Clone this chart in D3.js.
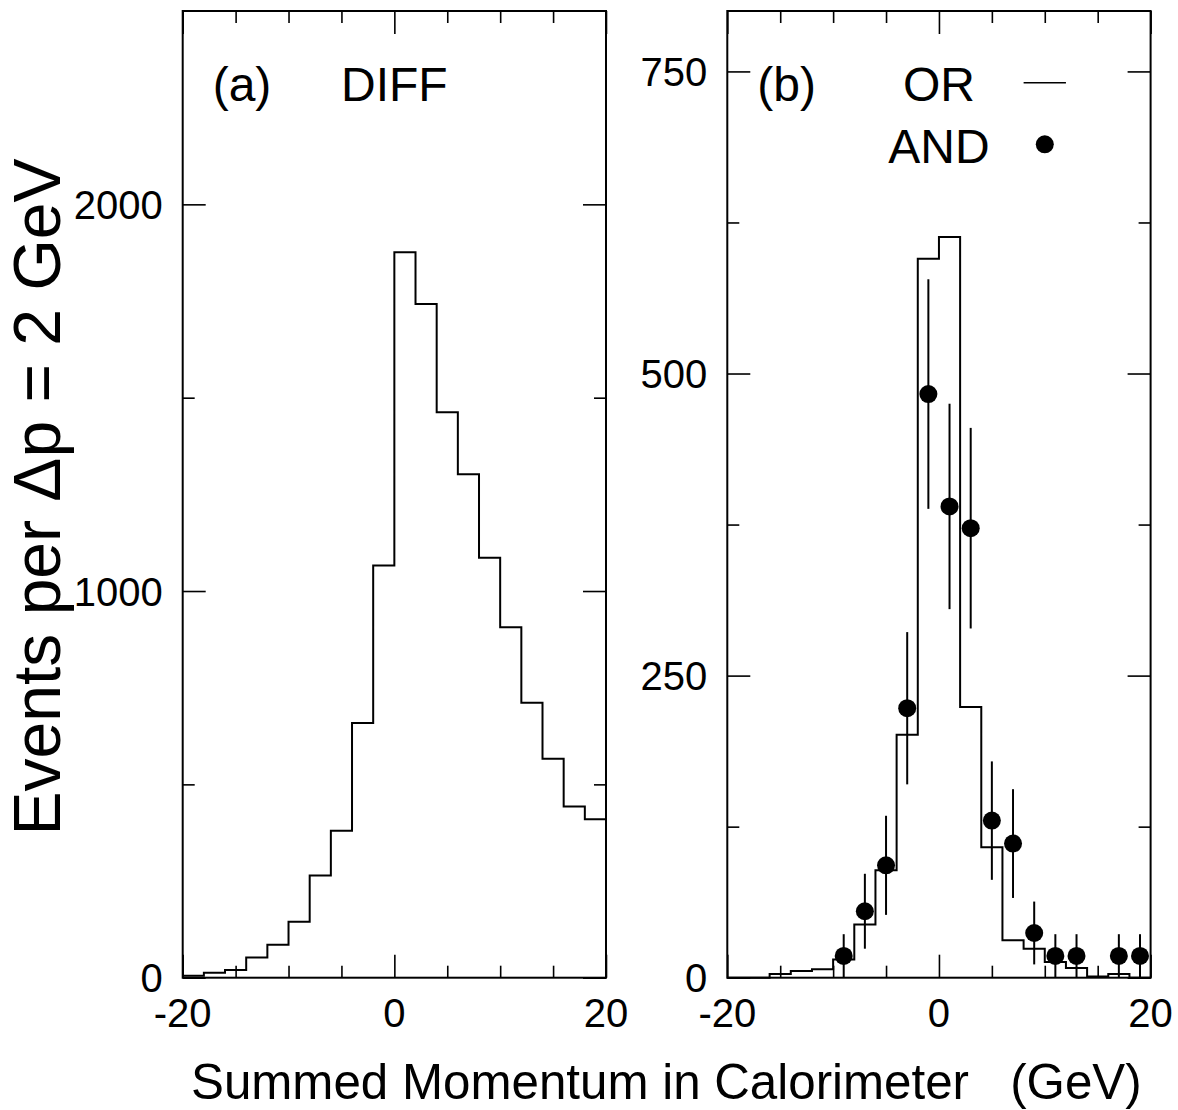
<!DOCTYPE html>
<html>
<head>
<meta charset="utf-8">
<script src="https://cdn.jsdelivr.net/npm/d3@7"></script>
<style>
body { margin: 0; background: #fff; }
text { font-family: "Liberation Sans", Arial, Helvetica, sans-serif; fill: #000; }
</style>
</head>
<body>
<svg id="chart" width="1178" height="1110"></svg>
<script>
// bin edges, 2 GeV wide
const binEdges = [-20, -18, -16, -14, -12, -10, -8, -6, -4, -2, 0, 2, 4, 6, 8, 10, 12, 14, 16, 18, 20];
// panel (a) DIFF histogram
const diffCounts = [5, 13, 20, 52, 85, 145, 264, 380, 659, 1066, 1876, 1742, 1462, 1302, 1086, 906, 711, 566, 443, 410];
// panel (b) OR histogram
const orCounts = [0, 0, 3, 5.5, 7, 15, 44, 89, 201, 595, 613, 224, 108, 31, 24, 13, 8, 1, 3, 0];
// panel (b) AND points
const andCenters = [-9, -7, -5, -3, -1, 1, 3, 5, 7, 9, 11, 13, 17, 19];
const andValues = [18, 55, 93, 223, 483, 390, 372, 130, 111, 37, 18, 18, 18, 18];
const andErrors = [18, 31, 41, 63, 95, 85, 83, 49, 45, 26, 18, 18, 18, 18];

const xMajor = [-20, 0, 20];
const xMinor = [-15, -10, -5, 5, 10, 15];
const yMajorA = [0, 1000, 2000];
const yMinorA = [500, 1500];
const yMajorB = [0, 250, 500, 750];
const yMinorB = [125, 375, 625];

const svg = d3.select("#chart");
const plotTop = 11, plotBottom = 977.7, plotWidth = 423.3;

function makePanel(left, yMax, yMajor, yMinor) {
    const x = d3.scaleLinear().domain([-20, 20]).range([left, left + plotWidth]);
    const y = d3.scaleLinear().domain([0, yMax]).range([plotBottom, plotTop]);
    const g = svg.append("g");

    // ticks, all pointing inwards
    const tickSets = [
        [d3.axisBottom(x), plotBottom, "x"], [d3.axisTop(x), plotTop, "x"],
        [d3.axisLeft(y), left, "y"], [d3.axisRight(y), left + plotWidth, "y"]
    ];
    tickSets.forEach(([axisFn, pos, dir]) => {
        [[dir == "x" ? xMajor : yMajor, 23], [dir == "x" ? xMinor : yMinor, 12]].forEach(([vals, len]) => {
            const a = g.append("g")
                .attr("transform", dir == "x" ? `translate(0,${pos})` : `translate(${pos},0)`)
                .call(axisFn.tickValues(vals).tickSizeInner(-len).tickSizeOuter(0).tickFormat(""));
            a.select(".domain").remove();
            a.selectAll("line").attr("stroke", "#000").attr("stroke-width", 1.6);
        });
    });

    g.append("rect")
        .attr("x", left).attr("y", plotTop)
        .attr("width", plotWidth).attr("height", plotBottom - plotTop)
        .attr("fill", "none").attr("stroke", "#000").attr("stroke-width", 2);

    g.selectAll(".xlab").data(xMajor).enter().append("text")
        .attr("x", d => x(d)).attr("y", 1027)
        .attr("text-anchor", "middle").attr("font-size", 40)
        .text(d => d);

    g.selectAll(".ylab").data(yMajor).enter().append("text")
        .attr("x", left - 20).attr("y", d => y(d) + 14.5)
        .attr("text-anchor", "end").attr("font-size", 40)
        .text(d => d);

    return { x, y, g };
}

function stepLine(x, y, counts) {
    const pts = counts.map((c, i) => [binEdges[i], c]);
    pts.push([binEdges[binEdges.length - 1], counts[counts.length - 1]]);
    return d3.line().x(d => x(d[0])).y(d => y(d[1])).curve(d3.curveStepAfter)(pts);
}

// panel (a)
const pa = makePanel(182.7, 2500, yMajorA, yMinorA);
pa.g.append("path")
    .attr("d", stepLine(pa.x, pa.y, diffCounts))
    .attr("fill", "none").attr("stroke", "#000").attr("stroke-width", 2);
pa.g.append("text").attr("x", pa.x(-20) + 30).attr("y", 101).attr("font-size", 48).text("(a)");
pa.g.append("text").attr("x", pa.x(0)).attr("y", 101).attr("text-anchor", "middle").attr("font-size", 48).text("DIFF");

// panel (b)
const pb = makePanel(727.3, 800, yMajorB, yMinorB);
pb.g.append("path")
    .attr("d", stepLine(pb.x, pb.y, orCounts))
    .attr("fill", "none").attr("stroke", "#000").attr("stroke-width", 2);

const andData = andCenters.map((c, i) => ({ c, v: andValues[i], e: andErrors[i] }));
pb.g.selectAll(".err").data(andData).enter().append("line")
    .attr("x1", d => pb.x(d.c)).attr("x2", d => pb.x(d.c))
    .attr("y1", d => pb.y(Math.max(0, d.v - d.e))).attr("y2", d => pb.y(d.v + d.e))
    .attr("stroke", "#000").attr("stroke-width", 2);
pb.g.selectAll(".dot").data(andData).enter().append("circle")
    .attr("cx", d => pb.x(d.c)).attr("cy", d => pb.y(d.v))
    .attr("r", 9).attr("fill", "#000");

pb.g.append("text").attr("x", pb.x(-20) + 30).attr("y", 101).attr("font-size", 48).text("(b)");
pb.g.append("text").attr("x", pb.x(0)).attr("y", 101).attr("text-anchor", "middle").attr("font-size", 48).text("OR");
pb.g.append("text").attr("x", pb.x(0)).attr("y", 162.5).attr("text-anchor", "middle").attr("font-size", 48).text("AND");
pb.g.append("line")
    .attr("x1", pb.x(8)).attr("x2", pb.x(12)).attr("y1", 82.7).attr("y2", 82.7)
    .attr("stroke", "#000").attr("stroke-width", 1.6);
pb.g.append("circle").attr("cx", pb.x(10)).attr("cy", 144.3).attr("r", 9).attr("fill", "#000");

// axis titles
svg.append("text")
    .attr("transform", "translate(60,497) rotate(-90)")
    .attr("text-anchor", "middle").attr("font-size", 66)
    .text("Events per \u0394p = 2 GeV");
svg.append("text")
    .attr("x", 191).attr("y", 1099)
    .attr("font-size", 49.3).style("white-space", "pre")
    .text("Summed Momentum in Calorimeter   (GeV)");
</script>
</body>
</html>
